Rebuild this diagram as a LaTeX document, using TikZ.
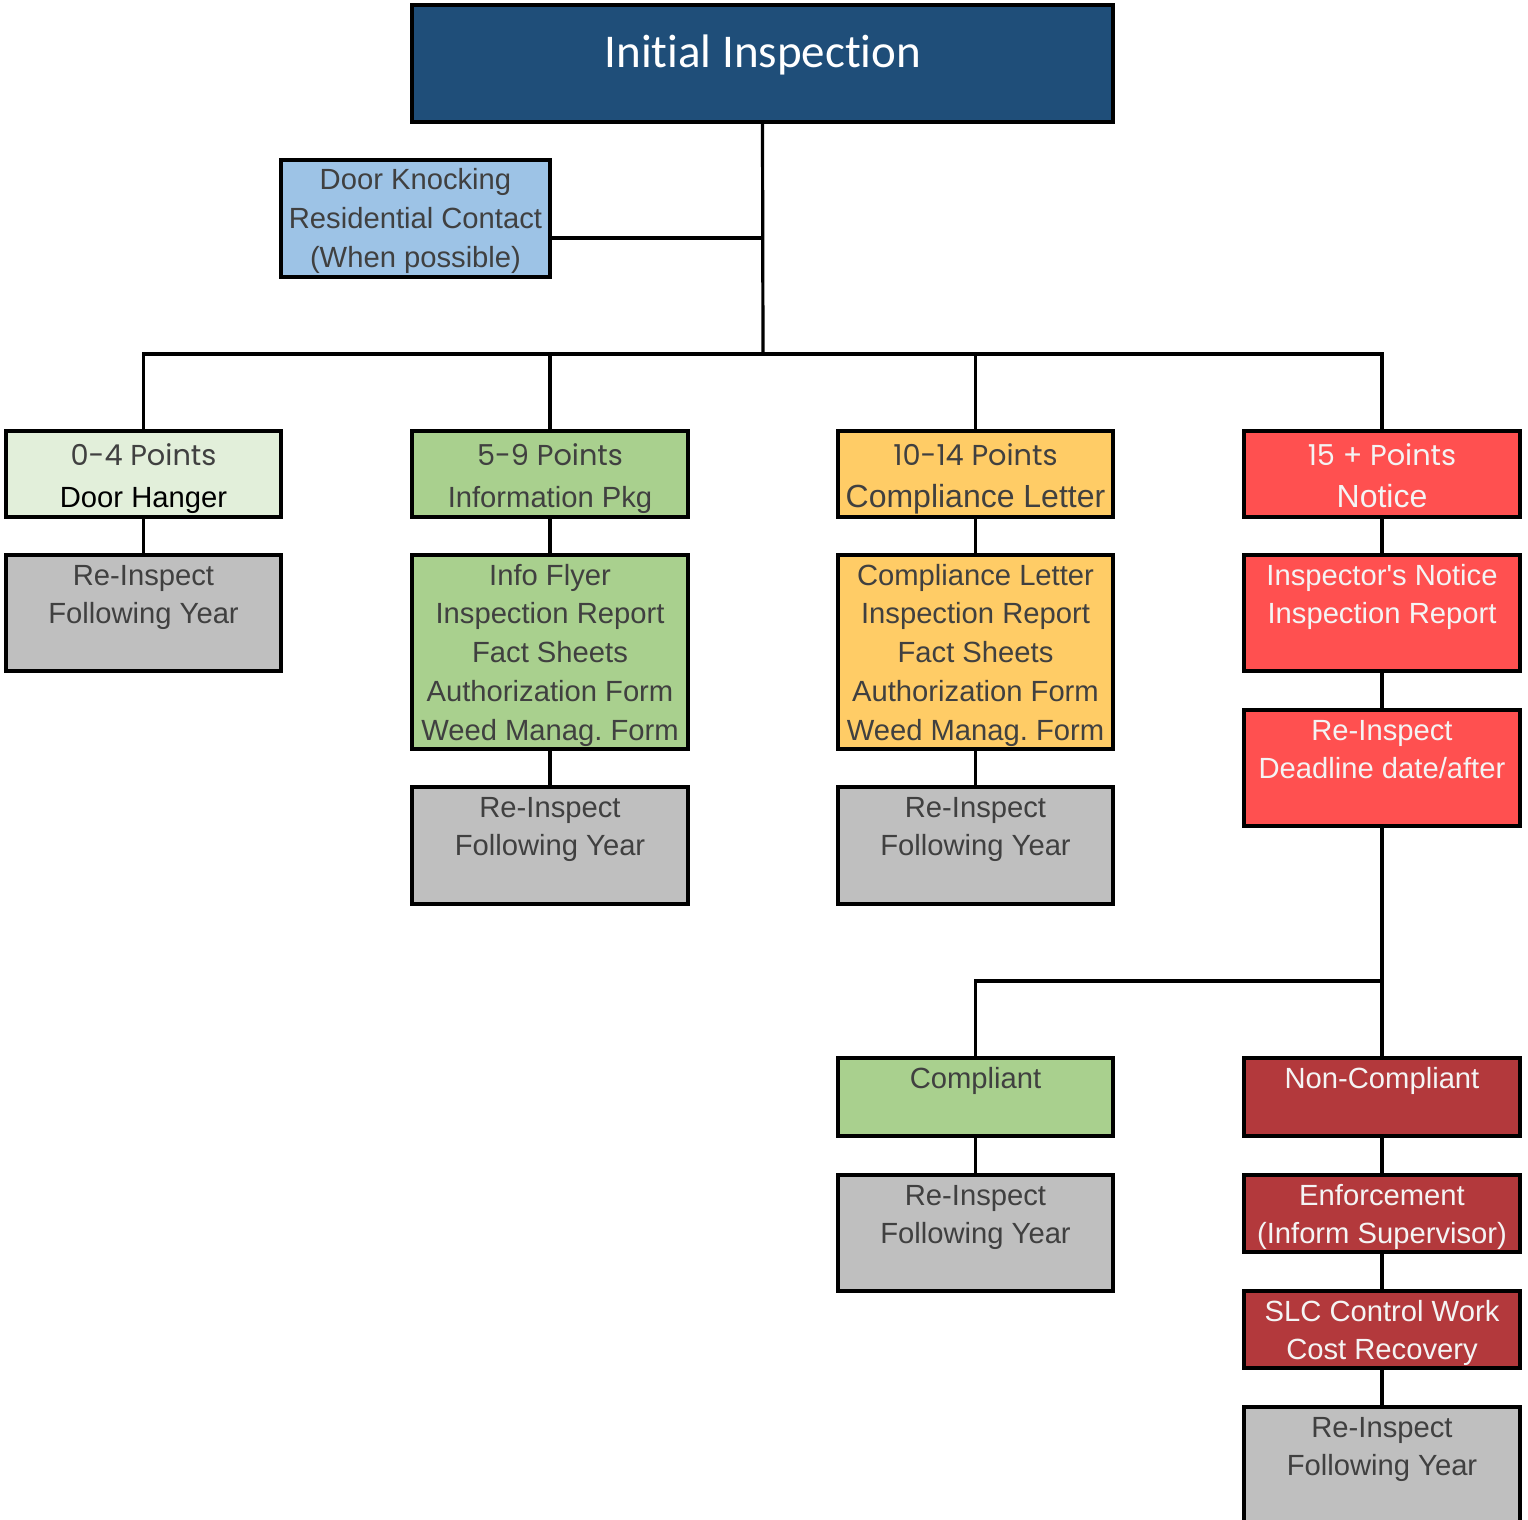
\documentclass[tikz,border=0pt]{standalone}
\usepackage{fontspec}
\setmainfont{Liberation Sans}
\newfontfamily\calib[Ligatures=NoCommon]{Carlito}
\newfontfamily\gothic{Poppins}
\usetikzlibrary{fit}
\frenchspacing
\definecolor{titleblue}{HTML}{1F4E79}
\definecolor{doorblue}{HTML}{9DC3E6}
\definecolor{palegreen}{HTML}{E2EFDA}
\definecolor{midgreen}{HTML}{A9D08E}
\definecolor{orangeb}{HTML}{FFCC66}
\definecolor{redb}{HTML}{FF5050}
\definecolor{darkredb}{HTML}{B3393C}
\definecolor{grayb}{HTML}{BFBFBF}
\definecolor{txtgray}{HTML}{404040}
\definecolor{txtwhite}{HTML}{F4F4F4}
\newcommand\mlines[1]{\parbox[t]{300pt}{\centering #1}}
\tikzset{
  box/.style={draw=black, line width=1.6pt, inner sep=0pt, rectangle},
  conn/.style={draw=black, line width=1.6pt},
  body/.style={inner sep=0pt, anchor=base, text=txtgray,
    font=\fontsize{14.6}{19.4}\selectfont},
  bodyw/.style={body, text=txtwhite},
  pts/.style={inner sep=0pt, anchor=base, text=txtgray,
    font=\gothic\fontsize{14.4}{17}\selectfont},
}
\begin{document}
\begin{tikzpicture}[x=0.5pt, y=-0.5pt]
\useasboundingbox (0,0) rectangle (1528,1520);

% boxes
\node[box, fill=titleblue, fit={(412,5) (1113,122)}] (init) {};
\node[box, fill=doorblue, fit={(281,160) (550,277)}] (door) {};
\node[box, fill=palegreen, fit={(6,431) (281,517)}] (p1) {};
\node[box, fill=midgreen, fit={(412,431) (688,517)}] (p2) {};
\node[box, fill=orangeb, fit={(838,431) (1113,517)}] (p3) {};
\node[box, fill=redb, fit={(1244,431) (1520,517)}] (p4) {};
\node[box, fill=grayb, fit={(6,555) (281,671)}] (g1) {};
\node[box, fill=midgreen, fit={(412,555) (688,749)}] (l2) {};
\node[box, fill=orangeb, fit={(838,555) (1113,749)}] (l3) {};
\node[box, fill=redb, fit={(1244,555) (1520,671)}] (l4) {};
\node[box, fill=grayb, fit={(412,787) (688,904)}] (g2) {};
\node[box, fill=grayb, fit={(838,787) (1113,904)}] (g3) {};
\node[box, fill=redb, fit={(1244,710) (1520,826)}] (r4) {};
\node[box, fill=midgreen, fit={(838,1058) (1113,1136)}] (comp) {};
\node[box, fill=darkredb, fit={(1244,1058) (1520,1136)}] (nc) {};
\node[box, fill=grayb, fit={(838,1175) (1113,1291)}] (g5) {};
\node[box, fill=darkredb, fit={(1244,1175) (1520,1252)}] (enf) {};
\node[box, fill=darkredb, fit={(1244,1291) (1520,1368)}] (slc) {};
\node[box, fill=grayb, fit={(1244,1407) (1520,1540)}] (g6) {};

% junction coordinates
\coordinate (bus) at (763,354);
\coordinate (dj) at (763,238);
\coordinate (split) at (1382,981);

% connectors
\draw[conn] (init.south) -- (bus);
\draw[conn] (door.east |- dj) -- (dj);
\draw[conn] (p1.north) |- (p4.north |- bus) -- (p4.north);
\draw[conn] (p2.north) -- (p2.north |- bus);
\draw[conn] (p3.north) -- (p3.north |- bus);
\draw[conn] (p1.south) -- (g1.north);
\draw[conn] (p2.south) -- (l2.north);
\draw[conn] (l2.south) -- (g2.north);
\draw[conn] (p3.south) -- (l3.north);
\draw[conn] (l3.south) -- (g3.north);
\draw[conn] (p4.south) -- (l4.north);
\draw[conn] (l4.south) -- (r4.north);
\draw[conn] (r4.south) -- (nc.north);
\draw[conn] (comp.north) |- (split);
\draw[conn] (comp.south) -- (g5.north);
\draw[conn] (nc.south) -- (enf.north);
\draw[conn] (enf.south) -- (slc.north);
\draw[conn] (slc.south) -- (g6.north);

% texts
\node[inner sep=0pt, anchor=base, text=white, font=\calib\fontsize{23.5}{28}\selectfont] (tinit) at (763,68) {Initial Inspection};
\node[body] (tdoor) at (door.center |- 0,190) {\mlines{Door Knocking\\Residential Contact\\(When possible)}};

\node[pts] (tp1a) at (p1.center |- 0,465) {0-4 Points};
\node[body, text=black] (tp1b) at (p1.center |- 0,507) {Door Hanger};
\node[pts] (tp2a) at (p2.center |- 0,465) {5-9 Points};
\node[body] (tp2b) at (p2.center |- 0,507) {Information Pkg};
\node[pts] (tp3a) at (p3.center |- 0,465) {10-14 Points};
\node[body, font=\fontsize{16}{19.4}\selectfont] (tp3b) at (p3.center |- 0,507) {Compliance Letter};
\node[pts, text=txtwhite] (tp4a) at (p4.center |- 0,465) {15 + Points};
\node[bodyw, font=\fontsize{16}{19.4}\selectfont] (tp4b) at (p4.center |- 0,507) {Notice};

\node[body] (tg1) at (g1.center |- 0,585) {\mlines{Re-Inspect\\Following Year}};
\node[body] (tl2) at (l2.center |- 0,585) {\mlines{Info Flyer\\Inspection Report\\Fact Sheets\\Authorization Form\\Weed Manag. Form}};
\node[body] (tl3) at (l3.center |- 0,585) {\mlines{Compliance Letter\\Inspection Report\\Fact Sheets\\Authorization Form\\Weed Manag. Form}};
\node[bodyw] (tl4) at (l4.center |- 0,585) {\mlines{Inspector\textquotesingle s Notice\\Inspection Report}};
\node[body] (tg2) at (g2.center |- 0,817) {\mlines{Re-Inspect\\Following Year}};
\node[body] (tg3) at (g3.center |- 0,817) {\mlines{Re-Inspect\\Following Year}};
\node[bodyw] (tr4) at (r4.center |- 0,740) {\mlines{Re-Inspect\\Deadline date/after}};
\node[body] (tcomp) at (comp.center |- 0,1088) {Compliant};
\node[bodyw] (tnc) at (nc.center |- 0,1088) {Non-Compliant};
\node[body] (tg5) at (g5.center |- 0,1205) {\mlines{Re-Inspect\\Following Year}};
\node[bodyw] (tenf) at (enf.center |- 0,1205) {\mlines{Enforcement\\(Inform Supervisor)}};
\node[bodyw] (tslc) at (slc.center |- 0,1321) {\mlines{SLC Control Work\\Cost Recovery}};
\node[body] (tg6) at (g6.center |- 0,1437) {\mlines{Re-Inspect\\Following Year}};
\end{tikzpicture}
\end{document}
